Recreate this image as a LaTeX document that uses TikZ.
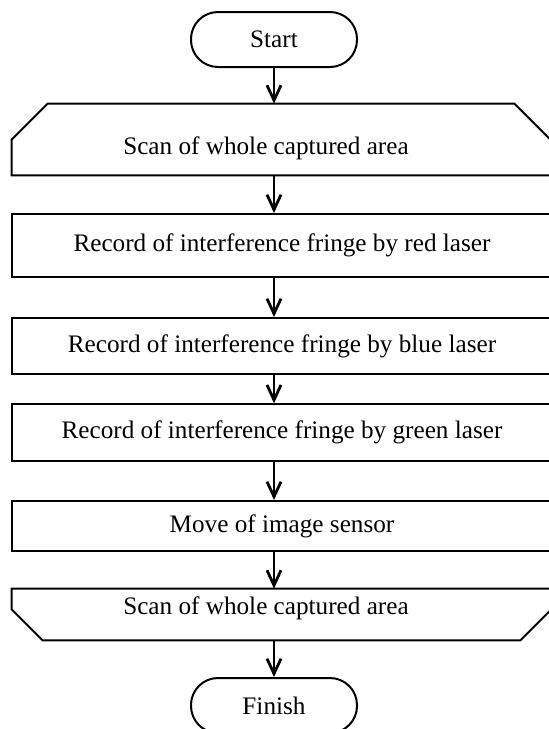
\documentclass[tikz,border=0pt]{standalone}
\usepackage{fontspec}
\setmainfont{Liberation Serif}
\usetikzlibrary{arrows.meta}
\tikzset{
  box/.style={draw, line width=1pt, minimum width=272pt, inner sep=0pt},
  loopbox/.style={minimum width=272pt, inner sep=0pt},
  terminal/.style={draw, line width=1pt, rounded corners=13.5pt, minimum width=83pt, minimum height=27.5pt},
  freccia/.style={-{Straight Barb[length=7.5pt,width=7pt]}, line width=1.4pt},
}
\begin{document}
\begin{tikzpicture}[x=0.5pt,y=-0.5pt,font=\fontsize{12.6}{15}\selectfont]
    \useasboundingbox (0,0) rectangle (549,729); %dimensioni della figura
    \clip (0,0) rectangle (549,729); %i blocchi escono a destra

    \node[terminal] (start) at (274,39.5) {Start};
    %inizio ciclo
    \node[loopbox, minimum height=35.5pt] (scanA) at (284,139.5) {};
    \draw[line width=1pt]([xshift=18pt]scanA.north west)--([xshift=-21pt]scanA.north east)--([yshift=-21pt]scanA.north east)--(scanA.south east)--(scanA.south west)--([yshift=-18pt]scanA.north west)--cycle;
    \node (scanAtext) at (266,148) {Scan of whole captured area};
    %registrazioni
    \node[box, minimum height=31.5pt] (red) at (284,245.5) {\hspace*{-2pt}Record of interference fringe by red laser};
    \node[box, minimum height=28pt] (blue) at (284,346) {\hspace*{-2pt}Record of interference fringe by blue laser};
    \node[box, minimum height=28.5pt] (green) at (284,432.75) {\hspace*{-2pt}Record of interference fringe by green laser};
    \node[box, minimum height=25pt] (move) at (284,526) {\hspace*{-2pt}Move of image sensor};
    %fine ciclo
    \node[loopbox, minimum height=25.5pt] (scanB) at (284,614.5) {};
    \draw[line width=1pt](scanB.north west)--(scanB.north east)--([yshift=18pt]scanB.south east)--([xshift=-18pt]scanB.south east)--([xshift=15.5pt]scanB.south west)--([yshift=15.5pt]scanB.south west)--cycle;
    \node (scanBtext) at (266,608) {Scan of whole captured area};
    \node[terminal] (finish) at (274,705.5) {Finish};
    %frecce
    \draw[freccia](start)--(start |- scanA.north);
    \draw[freccia](start |- scanA.south)--(start |- red.north);
    \draw[freccia](start |- red.south)--(start |- blue.north);
    \draw[freccia](start |- blue.south)--(start |- green.north);
    \draw[freccia](start |- green.south)--(start |- move.north);
    \draw[freccia](start |- move.south)--(start |- scanB.north);
    \draw[freccia](start |- scanB.south)--(finish);
\end{tikzpicture}
\end{document}
